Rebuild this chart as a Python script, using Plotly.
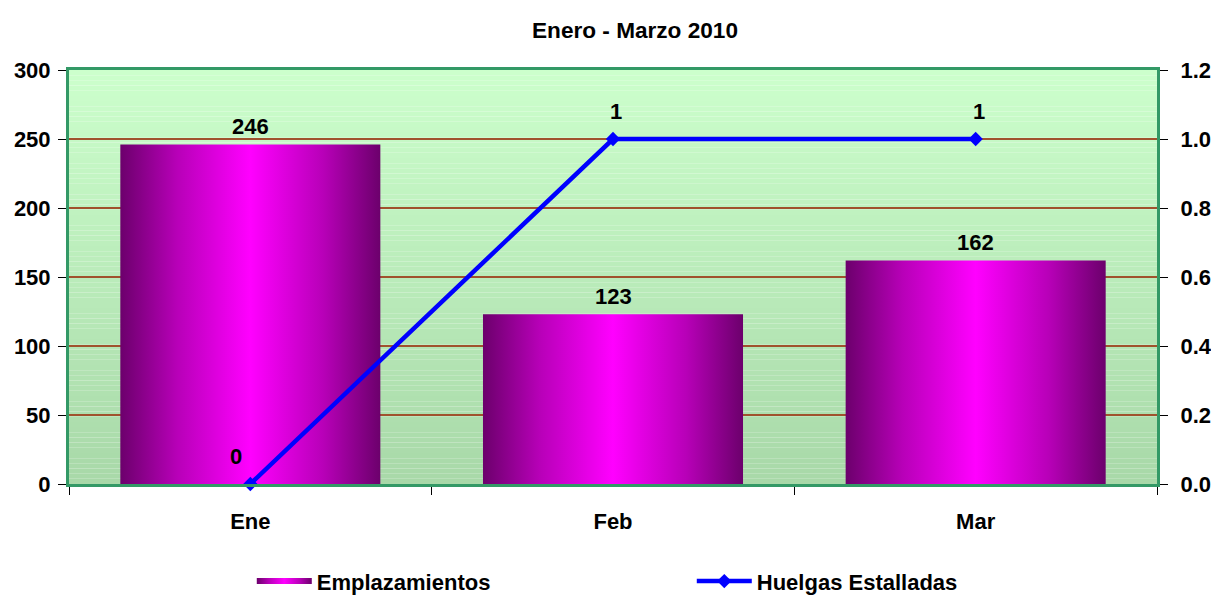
import plotly.graph_objects as go

categories = ["Ene", "Feb", "Mar"]
emplazamientos = [246, 123, 162]
huelgas = [0, 1, 1]
y_left_ticks = [0, 50, 100, 150, 200, 250, 300]
y_right_ticks = [0.0, 0.2, 0.4, 0.6, 0.8, 1.0, 1.2]

FONT = "Liberation Sans, Arial, sans-serif"
FS = 22
BAR_W = 0.717
bar_scale = [[0, "#6C006C"], [0.22, "#B800B8"], [0.5, "#FF00FF"], [0.78, "#B800B8"], [1, "#6C006C"]]

W, H = 1211, 595

fig = go.Figure()

# bars as gradient-filled polygons
for i, (c, v) in enumerate(zip(categories, emplazamientos)):
    xs = [i - BAR_W / 2, i - BAR_W / 2, i + BAR_W / 2, i + BAR_W / 2, i - BAR_W / 2]
    ys = [0, v, v, 0, 0]
    fig.add_trace(go.Scatter(
        x=xs, y=ys, mode="none", fill="toself",
        fillgradient=dict(type="horizontal", colorscale=bar_scale),
        name="Emplazamientos", legendgroup="emp", showlegend=(i == 0),
        hoverinfo="skip", yaxis="y",
    ))

fig.add_trace(go.Scatter(
    x=list(range(len(categories))), y=huelgas, mode="lines+markers",
    name="Huelgas Estalladas", yaxis="y2",
    line=dict(color="#0000FF", width=4.5),
    marker=dict(symbol="diamond", size=11, color="#0000FF"),
    cliponaxis=False,
))

# data labels
annotations = []
for i, v in enumerate(emplazamientos):
    annotations.append(dict(x=i, y=v, xref="x", yref="y", text=f"<b>{v}</b>",
                            showarrow=False, yanchor="middle", yshift=18,
                            font=dict(family=FONT, size=FS, color="black")))
for i, v in enumerate(huelgas):
    xs = -14 if v == 0 else 3
    annotations.append(dict(x=i, y=v, xref="x", yref="y2", text=f"<b>{v}</b>",
                            showarrow=False, yanchor="middle", yshift=28, xshift=xs,
                            font=dict(family=FONT, size=FS, color="black")))

# gradient background strips
shapes = []
n = 80
top = (0xCC, 0xFF, 0xCC)
bot = (0xA8, 0xD8, 0xA8)
for k in range(n):
    t = (k + 0.5) / n
    col = tuple(round(bot[j] + (top[j] - bot[j]) * t) for j in range(3))
    shapes.append(dict(type="rect", xref="paper", yref="paper", x0=0, x1=1,
                       y0=k / n, y1=(k + 1) / n, layer="below", line=dict(width=0),
                       fillcolor="rgb(%d,%d,%d)" % col))

tickfont = dict(family=FONT, size=FS, color="black", weight=700)

fig.update_layout(
    width=W, height=H,
    margin=dict(l=69, r=54, t=70, b=111, autoexpand=False),
    paper_bgcolor="white", plot_bgcolor="rgba(0,0,0,0)",
    font=dict(family=FONT, color="black"),
    title=dict(text="<b>Enero - Marzo 2010</b>", x=635 / W, xref="container", xanchor="center",
               y=1 - 30 / H, yref="container", yanchor="middle",
               font=dict(family=FONT, size=22.6, color="black")),
    shapes=shapes,
    annotations=annotations,
    xaxis=dict(range=[-0.5, 2.5], tickmode="array", tickvals=list(range(len(categories))),
               ticktext=categories, ticks="", tickfont=tickfont, showgrid=False,
               zeroline=False, showline=True, mirror=True, linecolor="#339966", linewidth=3,
               ticklabelstandoff=16,
               minor=dict(tick0=0.5, dtick=1, ticks="outside", ticklen=8, tickcolor="black",
                          tickwidth=1, showgrid=False)),
    yaxis=dict(range=[0, 300], tickmode="array", tickvals=y_left_ticks, ticks="outside",
               ticklen=8, tickcolor="black", tickfont=tickfont, showgrid=True,
               gridcolor="#A0522D", gridwidth=2, zeroline=False, showline=True, mirror=True,
               linecolor="#339966", linewidth=3, ticklabelstandoff=3, automargin=False),
    yaxis2=dict(range=[0, 1.2], tickmode="array", tickvals=y_right_ticks,
                ticktext=["%.1f" % v for v in y_right_ticks], overlaying="y", side="right",
                ticks="outside", ticklen=8, tickcolor="black", tickfont=tickfont,
                showgrid=False, zeroline=False, showline=True, linecolor="#339966",
                linewidth=3, ticklabelstandoff=8, automargin=False),
    legend=dict(orientation="h", x=0.168, xanchor="left", y=-0.235, yanchor="middle",
                entrywidth=370, itemwidth=55,
                font=dict(family=FONT, size=FS, color="black", weight=700),
                bgcolor="rgba(0,0,0,0)"),
    showlegend=True,
)

fig.write_html(
    "out.html",
    config={"displayModeBar": False},
    post_script="document.body.style.margin='0px';document.body.style.overflow='hidden';",
)
